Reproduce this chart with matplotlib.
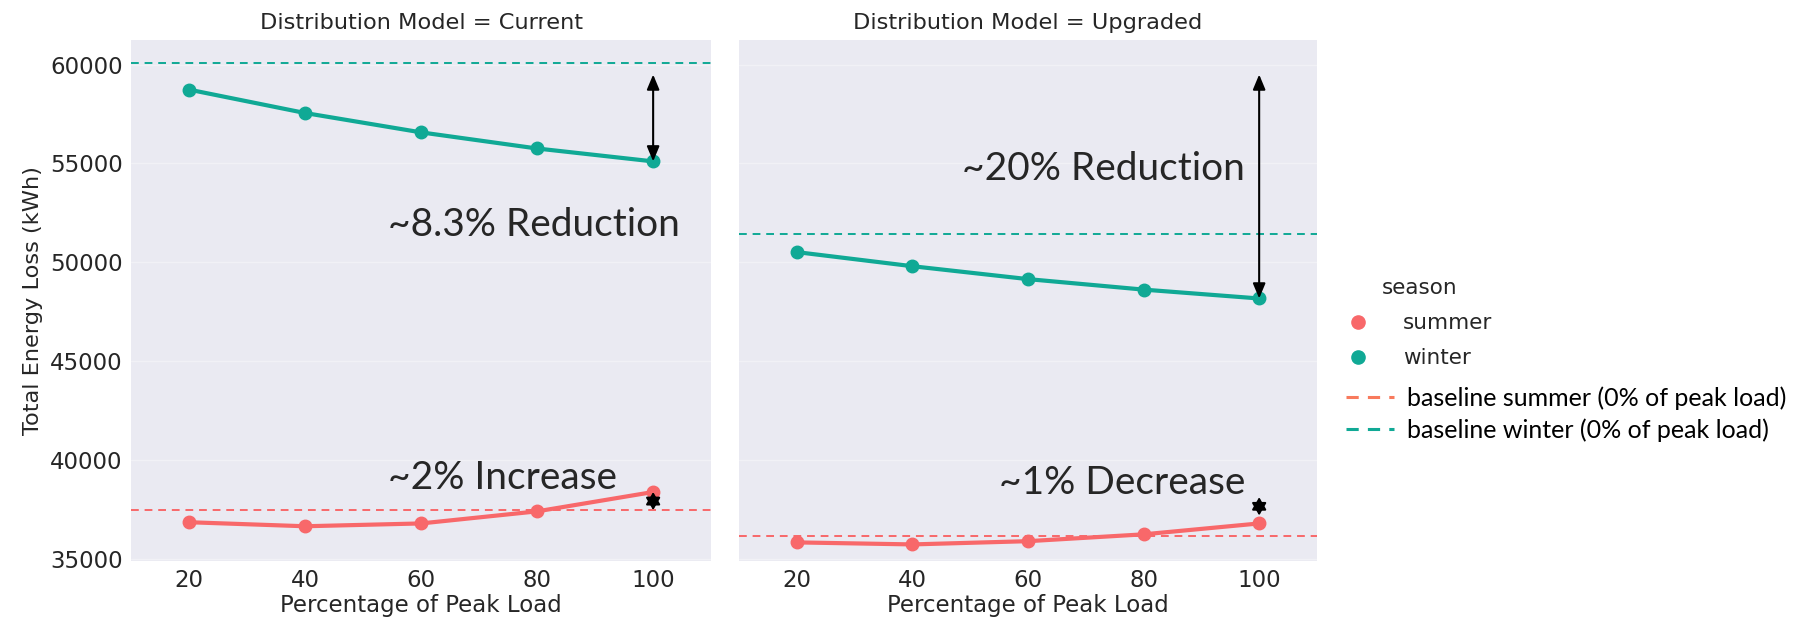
import matplotlib
matplotlib.use("Agg")
import matplotlib.pyplot as plt
from matplotlib.lines import Line2D
import seaborn as sns

sns.set_style("darkgrid")
plt.rcParams["font.family"] = ["DejaVu Sans"]

# Data
load_pct = [20, 40, 60, 80, 100]
models = ["Current", "Upgraded"]
winter_current = [58735, 57551, 56571, 55755, 55102]
summer_current = [36837, 36633, 36776, 37388, 38367]
winter_upgraded = [50510, 49796, 49143, 48612, 48163]
summer_upgraded = [35816, 35714, 35878, 36224, 36776]
baseline_winter = {"Current": 60061, "Upgraded": 51429}
baseline_summer = {"Current": 37449, "Upgraded": 36122}
series = {
    "Current": {"summer": summer_current, "winter": winter_current},
    "Upgraded": {"summer": summer_upgraded, "winter": winter_upgraded},
}
yticks = [35000, 40000, 45000, 50000, 55000, 60000]

SUMMER = "#f8686a"
SUMMER_BASE = "#f87a5d"
WINTER = "#10a995"
TEXT = "#262626"
ANNOT_FONT = ["Lato", "DejaVu Sans"]
FS_TICK = 16.5
FS_LABEL = 16.2

fig = plt.figure(figsize=(18.10, 6.34), dpi=100)
axes = [fig.add_axes([0.0724, 0.115, 0.3205, 0.822]),
        fig.add_axes([0.4083, 0.115, 0.3193, 0.822])]

for ax, model in zip(axes, models):
    ax.set_facecolor("#eaeaf2")
    ax.grid(False)
    ax.yaxis.grid(True, color="#f1f1f6", lw=1.0)
    ax.axhline(baseline_summer[model], color=SUMMER, ls=(0, (4, 3)), lw=1.4, zorder=2)
    ax.axhline(baseline_winter[model], color=WINTER, ls=(0, (4, 3)), lw=1.4, zorder=2)
    ax.plot(load_pct, series[model]["summer"], color=SUMMER, lw=3, marker="o",
            ms=9, zorder=3)
    ax.plot(load_pct, series[model]["winter"], color=WINTER, lw=3, marker="o",
            ms=9, zorder=3)
    ax.set_xlim(10, 110)
    ax.set_ylim(34870, 61250)
    ax.set_xticks([20, 40, 60, 80, 100])
    ax.set_yticks(yticks)
    ax.tick_params(labelsize=FS_TICK, colors=TEXT, length=0, pad=6)
    ax.set_xlabel("Percentage of Peak Load", fontsize=FS_TICK, color=TEXT, labelpad=1)
    ax.set_title(f"Distribution Model = {model}", fontsize=FS_LABEL, color=TEXT, pad=8)
    for s in ax.spines.values():
        s.set_visible(False)

axes[0].set_ylabel("Total Energy Loss (kWh)", fontsize=FS_LABEL, color=TEXT, labelpad=5)
axes[1].tick_params(labelleft=False)

arrow_kw = dict(arrowstyle="<|-|>,head_length=0.6,head_width=0.25", color="black",
                lw=1.5, mutation_scale=15, shrinkA=0, shrinkB=0)
short_arrow_kw = dict(arrowstyle="<|-|>,head_length=0.5,head_width=0.29", color="black",
                      lw=1.5, mutation_scale=15, shrinkA=0, shrinkB=0)

# Current model annotations
axes[0].annotate("", xy=(100, winter_current[-1]), xytext=(100, 59500),
                 arrowprops=arrow_kw)
axes[0].annotate("", xy=(100, summer_current[-1]), xytext=(100, baseline_summer["Current"]),
                 arrowprops=short_arrow_kw)
axes[0].text(54.3, 51880, "~8.3% Reduction", fontsize=28, family=ANNOT_FONT,
             va="center", ha="left")
axes[0].text(54.3, 39070, "~2% Increase", fontsize=28, family=ANNOT_FONT,
             va="center", ha="left")

# Upgraded model annotations
axes[1].annotate("", xy=(100, winter_upgraded[-1]), xytext=(100, 59500),
                 arrowprops=arrow_kw)
axes[1].annotate("", xy=(100, 37180), xytext=(100, 38105), arrowprops=short_arrow_kw)
axes[1].text(48.6, 54700, "~20% Reduction", fontsize=28, family=ANNOT_FONT,
             va="center", ha="left")
axes[1].text(55, 38800, "~1% Decrease", fontsize=28, family=ANNOT_FONT,
             va="center", ha="left")

# Legends: season markers, then baseline lines
season_handles = [
    Line2D([], [], ls="none", marker="o", ms=9.5, color=SUMMER),
    Line2D([], [], ls="none", marker="o", ms=9.5, color=WINTER),
]
leg1 = fig.legend(season_handles, ["summer", "winter"], title="season",
                  loc="upper left", bbox_to_anchor=(0.736, 0.585), frameon=False,
                  fontsize=15.5, title_fontsize=15.5, handlelength=1.0,
                  handletextpad=1.6, labelspacing=0.7, borderpad=0.2)
for t in leg1.get_texts():
    t.set_color(TEXT)
leg1.get_title().set_color(TEXT)

base_handles = [
    Line2D([], [], color=SUMMER_BASE, ls=(0, (4, 3)), lw=2.2),
    Line2D([], [], color=WINTER, ls=(0, (4, 3)), lw=2.2),
]
leg2 = fig.legend(base_handles, ["baseline summer (0% of peak load)",
                                 "baseline winter (0% of peak load)"],
                  loc="upper left", bbox_to_anchor=(0.734, 0.418), frameon=False,
                  prop={"family": ANNOT_FONT, "size": 18}, handlelength=1.9,
                  handletextpad=0.55, labelspacing=0.32, borderpad=0.2)
for t in leg2.get_texts():
    t.set_color("black")

fig.savefig("out.png", dpi=100)
